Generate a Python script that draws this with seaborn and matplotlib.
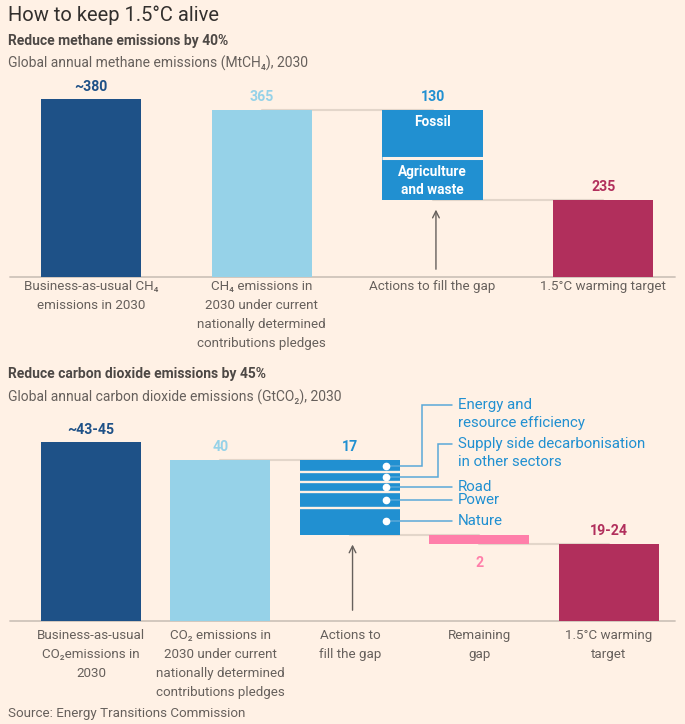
import matplotlib
matplotlib.use("Agg")
import matplotlib.pyplot as plt
import seaborn as sns
import numpy as np
import pandas as pd

# ---------------- data ----------------
ch4_categories = ["Business-as-usual CH₄\nemissions in 2030",
                  "CH₄ emissions in\n2030 under current\nnationally determined\ncontributions pledges",
                  "Actions to fill the gap",
                  "1.5°C warming target"]
ch4_bau = 380
ch4_ndc = 365
ch4_action_labels = ["Fossil", "Agriculture\nand waste"]
ch4_action_values = [70, 60]
ch4_target = 235
ch4_value_labels = ["~380", "365", "130", "235"]

co2_categories = ["Business-as-usual\nCO₂emissions in\n2030",
                  "CO₂ emissions in\n2030 under current\nnationally determined\ncontributions pledges",
                  "Actions to\nfill the gap",
                  "Remaining\ngap",
                  "1.5°C warming\ntarget"]
co2_bau = 44
co2_ndc = 40
co2_action_labels = ["Energy and\nresource efficiency",
                     "Supply side decarbonisation\nin other sectors",
                     "Road", "Power", "Nature"]
co2_action_values = [2.7, 2.2, 2.4, 3.6, 6.1]
co2_gap = 2
co2_target = 21
co2_value_labels = ["~43-45", "40", "17", "2", "19-24"]

# ---------------- style ----------------
BG = "#fff1e5"
DARK = "#1e5187"
LIGHT = "#96d2e8"
MID = "#2190d1"
CRIMSON = "#b12f5c"
PINK = "#ff7faa"
GREY = "#66605c"
LINE = "#e3d6ca"
BASE = "#cfc4ba"
LEADER = "#5aa8d8"

sns.set_theme(style="white")
FONT = ["Roboto", "DejaVu Sans"]
plt.rcParams["font.family"] = FONT
plt.rcParams["figure.facecolor"] = BG
plt.rcParams["axes.facecolor"] = BG

W, H = 685, 724
fig = plt.figure(figsize=(W / 100, H / 100), dpi=100, facecolor=BG)


def px_axes(l, t, r, b):
    return fig.add_axes([l / W, 1 - b / H, (r - l) / W, (b - t) / H])


def setup(ax, cats, xlim, ylim, pad):
    ax.set_facecolor(BG)
    ax.set_xlim(*xlim)
    ax.set_ylim(*ylim)
    for s in ax.spines.values():
        s.set_visible(False)
    ax.set_yticks([])
    ax.set_xticks(range(len(cats)))
    ax.set_xticklabels(cats, color=GREY, fontsize=9.6, linespacing=1.6,
                       va="top", ha="center")
    ax.tick_params(axis="x", length=0, pad=pad)
    ax.set_xlabel("")
    ax.set_ylabel("")
    ax.axhline(ylim[0], color=BASE, lw=1.3, clip_on=False, zorder=1)


def scales(ax):
    bb = ax.get_position()
    wpx = bb.width * W
    hpx = bb.height * H
    x0, x1 = ax.get_xlim()
    y0, y1 = ax.get_ylim()
    return wpx / (x1 - x0), hpx / (y1 - y0)


# ================= Methane chart =================
ax1 = px_axes(10, 70, 675, 277)
w1 = 0.586
df1 = pd.DataFrame({"cat": ch4_categories,
                    "val": [ch4_bau, ch4_ndc, np.nan, ch4_target]})
sns.barplot(data=df1, x="cat", y="val", hue="cat", order=ch4_categories,
            palette=[DARK, LIGHT, MID, CRIMSON], width=w1, legend=False,
            saturation=1, ax=ax1, zorder=2, linewidth=0)
yl1 = (124, 124 + 207 / 0.695)
setup(ax1, ch4_categories, (-0.4745, 3.42), yl1, 2.5)
px1, py1 = scales(ax1)

top = ch4_ndc
bounds1 = []
for lab, v in zip(ch4_action_labels, ch4_action_values):
    ax1.bar(2, v, bottom=top - v, width=w1, color=MID, linewidth=0, zorder=2)
    bounds1.append((top, top - v))
    top -= v
for (t, b) in bounds1[:-1]:
    ax1.hlines(b, 2 - w1 / 2, 2 + w1 / 2, color=BG, lw=2.2, zorder=3)
ax1.text(2, bounds1[0][0] - 12 / py1, ch4_action_labels[0], ha="center", va="center",
         color="white", fontsize=9.8, fontweight="bold", zorder=4)
ax1.text(2, (bounds1[1][0] + bounds1[1][1]) / 2 - 2 / py1, ch4_action_labels[1],
         ha="center", va="center", color="white", fontsize=9.8, fontweight="bold",
         linespacing=1.3, zorder=4)
ax1.plot([1, 2], [ch4_ndc, ch4_ndc], color=LINE, lw=1.5, zorder=1)
ax1.plot([2, 3], [ch4_target, ch4_target], color=LINE, lw=1.5, zorder=1)
ax1.annotate("", xy=(2.02, ch4_target - 7 / py1), xytext=(2.02, yl1[0] + 5 / py1),
             arrowprops=dict(arrowstyle="->", color=GREY, lw=1, mutation_scale=12),
             zorder=3)
tops1 = [ch4_bau, ch4_ndc, ch4_ndc, ch4_target]
cols1 = [DARK, LIGHT, MID, CRIMSON]
for i, (lab, t, c) in enumerate(zip(ch4_value_labels, tops1, cols1)):
    ax1.annotate(lab, (i, t), xytext=(0, 4), textcoords="offset points",
                 ha="center", va="bottom", color=c, fontsize=10.2, fontweight="bold")

# ================= CO2 chart =================
ax2 = px_axes(10, 400, 675, 621)
w2 = 0.772
df2 = pd.DataFrame({"cat": co2_categories,
                    "val": [co2_bau, co2_ndc, np.nan, np.nan, co2_target]})
sns.barplot(data=df2, x="cat", y="val", hue="cat", order=co2_categories,
            palette=[DARK, LIGHT, MID, PINK, CRIMSON], width=w2, legend=False,
            saturation=1, ax=ax2, zorder=2, linewidth=0)
yl2 = (3.4, 3.4 + 221 / 4.4)
setup(ax2, co2_categories, (-0.625, 4.51), yl2, 5.5)
px2, py2 = scales(ax2)

top = co2_ndc
bounds2 = []
for v in co2_action_values:
    ax2.bar(2, v, bottom=top - v, width=w2, color=MID, linewidth=0, zorder=2)
    bounds2.append((top, top - v))
    top -= v
for (t, b) in bounds2[:-1]:
    ax2.hlines(b, 2 - w2 / 2, 2 + w2 / 2, color=BG, lw=1.7, zorder=3)
ax2.bar(3, co2_gap, bottom=co2_target, width=w2, color=PINK, linewidth=0, zorder=2)
ax2.plot([1, 2], [co2_ndc, co2_ndc], color=LINE, lw=1.5, zorder=1)
ax2.plot([2, 3], [co2_target + co2_gap, co2_target + co2_gap], color=LINE, lw=1.5, zorder=1)
ax2.plot([3, 4], [co2_target, co2_target], color=LINE, lw=1.5, zorder=1)
ax2.annotate("", xy=(2.02, top - 7 / py2), xytext=(2.02, yl2[0] + 8 / py2),
             arrowprops=dict(arrowstyle="->", color=GREY, lw=1, mutation_scale=12),
             zorder=3)
x_dot = 2 + 35.7 / px2
x_end = 2 + 102 / px2
x_txt = 2 + 108 / px2
elbows = [71.7, 88, None, None, None]
rises = [61, 33, 0, 0, 0]
for (t, b), lab, el, rise in zip(bounds2, co2_action_labels, elbows, rises):
    yc = (t + b) / 2
    ly = yc + rise / py2
    if el is None:
        xs, ys = [x_dot, x_end], [yc, yc]
    else:
        xe = 2 + el / px2
        xs, ys = [x_dot, xe, xe, x_end], [yc, yc, ly, ly]
    ax2.plot(xs, ys, color=LEADER, lw=1.1, zorder=4, clip_on=False,
             solid_joinstyle="miter")
    ax2.plot([x_dot], [yc], "o", color="white", ms=4.5, zorder=5, clip_on=False)
    for k, ln in enumerate(lab.split("\n")):
        ax2.text(x_txt, ly - k * 18.5 / py2, ln, ha="left", va="center",
                 color=MID, fontsize=10.8, clip_on=False)
tops2 = [co2_bau, co2_ndc, co2_ndc, None, co2_target]
cols2 = [DARK, LIGHT, MID, PINK, CRIMSON]
for i, (lab, t, c) in enumerate(zip(co2_value_labels, tops2, cols2)):
    if t is None:
        ax2.annotate(lab, (i, co2_target), xytext=(0, -9), textcoords="offset points",
                     ha="center", va="top", color=c, fontsize=10.2, fontweight="bold")
    else:
        ax2.annotate(lab, (i, t), xytext=(0, 4), textcoords="offset points",
                     ha="center", va="bottom", color=c, fontsize=10.2, fontweight="bold")

# ================= titles =================
fig.text(8 / W, 1 - 15 / H, "How to keep 1.5°C alive", ha="left", va="center",
         fontsize=14.5, color="#33302e")
fig.text(8 / W, 1 - 41 / H, "Reduce methane emissions by 40%", ha="left", va="center",
         fontsize=10, fontweight="bold", color="#4d4845")
fig.text(8 / W, 1 - 63 / H, "Global annual methane emissions (MtCH₄), 2030", ha="left",
         va="center", fontsize=10, color=GREY)
fig.text(8 / W, 1 - 374 / H, "Reduce carbon dioxide emissions by 45%", ha="left",
         va="center", fontsize=10, fontweight="bold", color="#4d4845")
fig.text(8 / W, 1 - 397 / H, "Global annual carbon dioxide emissions (GtCO₂), 2030",
         ha="left", va="center", fontsize=10, color=GREY)
fig.text(8 / W, 1 - 713 / H, "Source: Energy Transitions Commission", ha="left",
         va="center", fontsize=9.6, color=GREY)

fig.savefig("out.png", dpi=100, facecolor=BG)
